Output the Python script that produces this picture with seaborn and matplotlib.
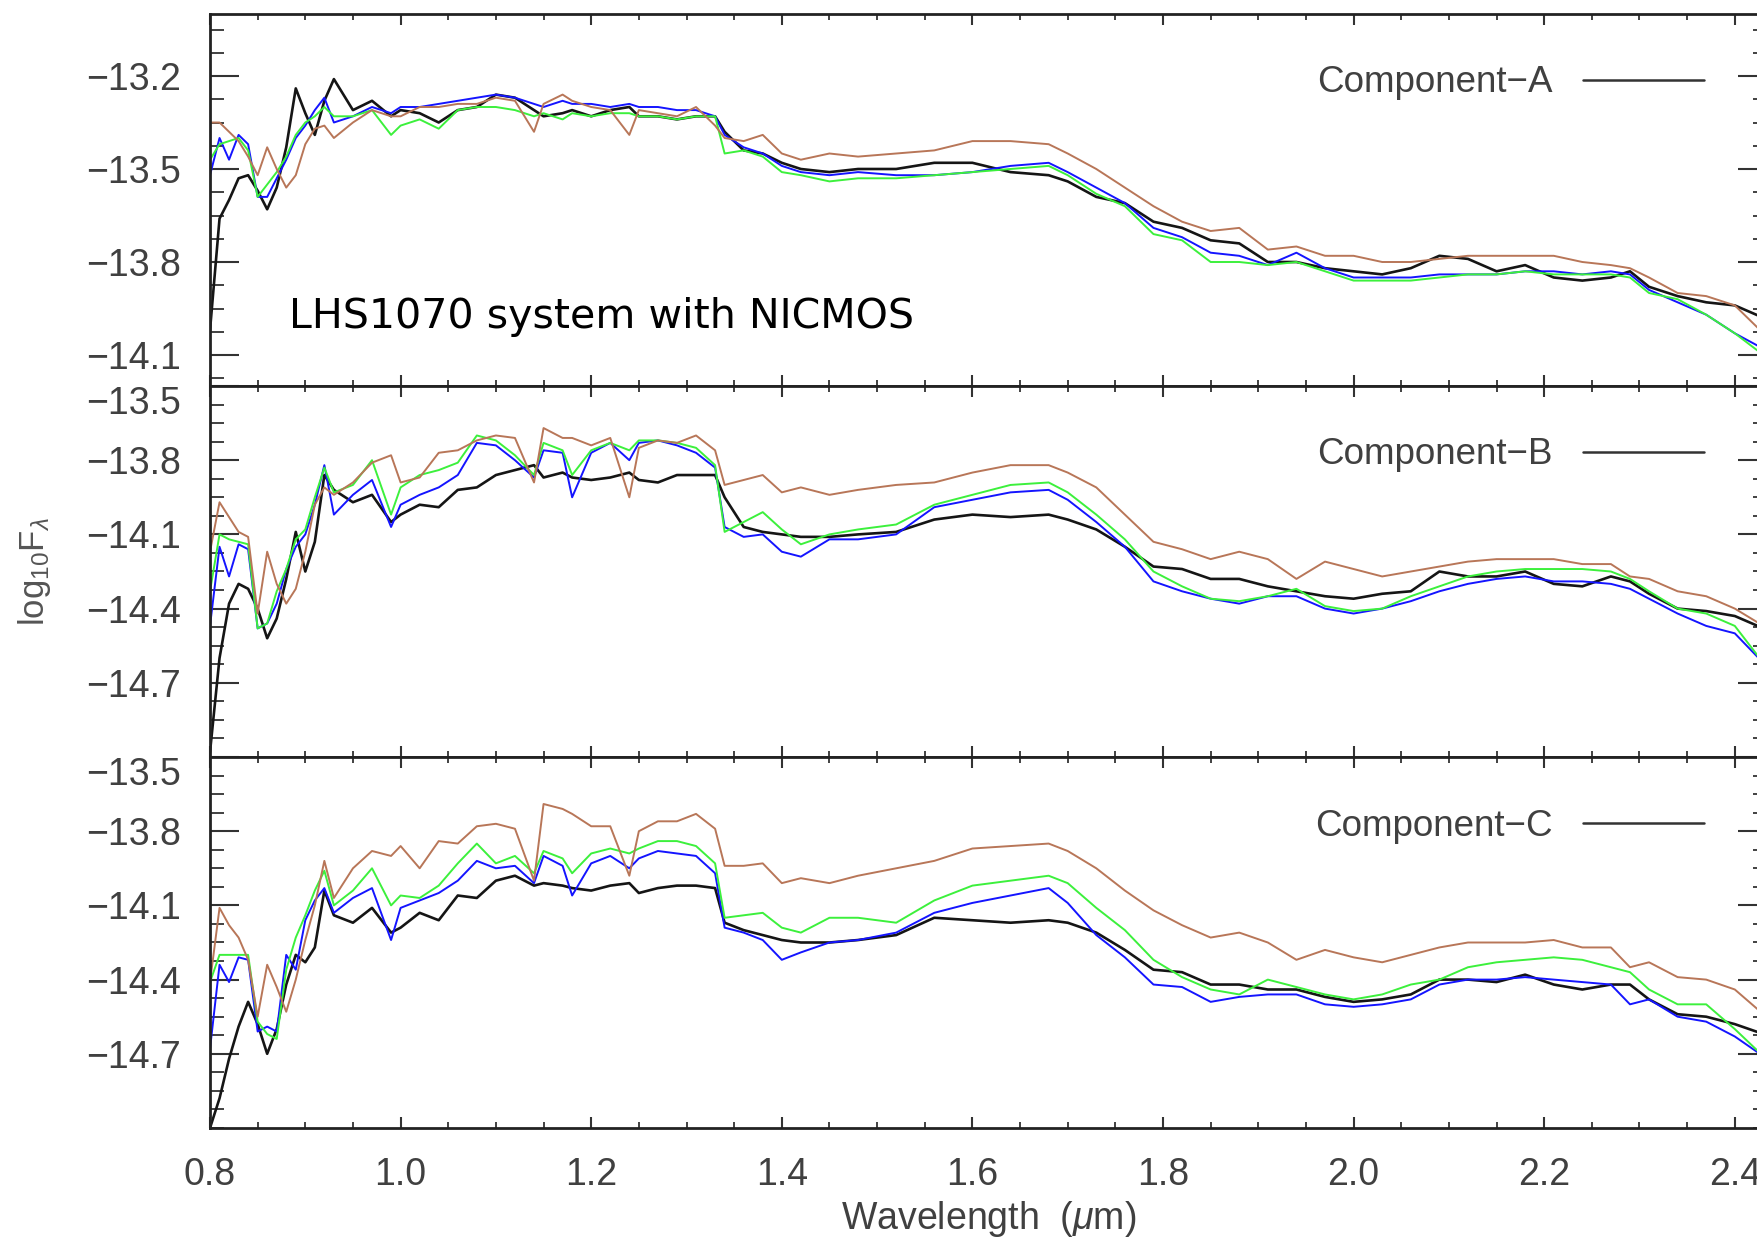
import numpy as np
import pandas as pd
import matplotlib
matplotlib.use("Agg")
import matplotlib.pyplot as plt
import seaborn as sns
from matplotlib.ticker import FixedLocator, FixedFormatter, MultipleLocator
from matplotlib.lines import Line2D

# ---------------- data ----------------
wavelength = [0.80, 0.81, 0.82, 0.83, 0.84, 0.85, 0.86, 0.87, 0.88, 0.89, 0.90, 0.91, 0.92, 0.93,
              0.95, 0.97, 0.99, 1.00, 1.02, 1.04, 1.06, 1.08, 1.10, 1.12,
              1.14, 1.15, 1.17, 1.18, 1.20, 1.22, 1.24, 1.25, 1.27, 1.29, 1.31, 1.33, 1.34, 1.36,
              1.38, 1.40, 1.42, 1.45, 1.48, 1.52,
              1.56, 1.60, 1.64, 1.68, 1.70,
              1.73, 1.76, 1.79, 1.82, 1.85, 1.88, 1.91, 1.94, 1.97, 2.00, 2.03, 2.06, 2.09, 2.12,
              2.15, 2.18, 2.21, 2.24, 2.27,
              2.29, 2.31, 2.34, 2.37, 2.40, 2.43]

# Component A
a_black = [-14.02, -13.66, -13.60, -13.53, -13.52, -13.57, -13.63, -13.56, -13.43, -13.24, -13.32, -13.39, -13.28, -13.21,
           -13.31, -13.28, -13.33, -13.31, -13.32, -13.35, -13.31, -13.30, -13.26, -13.27,
           -13.31, -13.33, -13.32, -13.31, -13.33, -13.31, -13.30, -13.33, -13.33, -13.34, -13.33, -13.33, -13.38, -13.44,
           -13.45, -13.48, -13.50, -13.51, -13.50, -13.50,
           -13.48, -13.48, -13.51, -13.52, -13.54,
           -13.59, -13.61, -13.67, -13.69, -13.73, -13.74, -13.80, -13.80, -13.82, -13.83, -13.84, -13.82, -13.78, -13.79,
           -13.83, -13.81, -13.85, -13.86, -13.85,
           -13.83, -13.88, -13.91, -13.93, -13.94, -13.98]
a_blue = [-13.52, -13.40, -13.47, -13.39, -13.42, -13.59, -13.59, -13.53, -13.47, -13.40, -13.36, -13.31, -13.27, -13.35,
          -13.33, -13.30, -13.32, -13.30, -13.30, -13.29, -13.28, -13.27, -13.26, -13.27,
          -13.29, -13.30, -13.28, -13.29, -13.29, -13.30, -13.29, -13.30, -13.30, -13.31, -13.31, -13.33, -13.39, -13.43,
          -13.45, -13.49, -13.51, -13.52, -13.51, -13.52,
          -13.52, -13.51, -13.49, -13.48, -13.51,
          -13.56, -13.61, -13.69, -13.72, -13.77, -13.78, -13.81, -13.77, -13.82, -13.85, -13.85, -13.85, -13.84, -13.84,
          -13.84, -13.83, -13.83, -13.84, -13.83,
          -13.84, -13.89, -13.93, -13.97, -14.03, -14.08]
a_green = [-13.47, -13.42, -13.41, -13.40, -13.44, -13.59, -13.55, -13.51, -13.46, -13.39, -13.35, -13.33, -13.30, -13.33,
           -13.33, -13.31, -13.39, -13.36, -13.34, -13.37, -13.31, -13.30, -13.30, -13.31,
           -13.33, -13.32, -13.34, -13.32, -13.33, -13.32, -13.32, -13.33, -13.33, -13.34, -13.33, -13.33, -13.45, -13.44,
           -13.46, -13.51, -13.52, -13.54, -13.53, -13.53,
           -13.52, -13.51, -13.50, -13.49, -13.52,
           -13.58, -13.62, -13.71, -13.73, -13.80, -13.80, -13.81, -13.80, -13.83, -13.86, -13.86, -13.86, -13.85, -13.84,
           -13.84, -13.83, -13.84, -13.84, -13.84,
           -13.85, -13.90, -13.92, -13.97, -14.03, -14.10]
a_brown = [-13.35, -13.35, -13.38, -13.41, -13.46, -13.52, -13.43, -13.50, -13.56, -13.52, -13.42, -13.37, -13.36, -13.40,
           -13.35, -13.31, -13.33, -13.33, -13.30, -13.30, -13.29, -13.29, -13.27, -13.28,
           -13.38, -13.29, -13.26, -13.28, -13.30, -13.31, -13.39, -13.31, -13.32, -13.33, -13.30, -13.36, -13.40, -13.41,
           -13.39, -13.45, -13.47, -13.45, -13.46, -13.45,
           -13.44, -13.41, -13.41, -13.42, -13.45,
           -13.50, -13.56, -13.62, -13.67, -13.70, -13.69, -13.76, -13.75, -13.78, -13.78, -13.80, -13.80, -13.79, -13.78,
           -13.78, -13.78, -13.78, -13.80, -13.81,
           -13.82, -13.85, -13.90, -13.91, -13.94, -14.03]

# Component B
b_black = [-14.98, -14.60, -14.38, -14.30, -14.32, -14.40, -14.52, -14.44, -14.28, -14.09, -14.25, -14.13, -13.86, -13.92,
           -13.97, -13.94, -14.05, -14.02, -13.98, -13.99, -13.92, -13.91, -13.86, -13.84,
           -13.82, -13.87, -13.85, -13.87, -13.88, -13.87, -13.85, -13.88, -13.89, -13.86, -13.86, -13.86, -13.95, -14.07,
           -14.09, -14.10, -14.11, -14.11, -14.10, -14.09,
           -14.04, -14.02, -14.03, -14.02, -14.04,
           -14.08, -14.15, -14.23, -14.24, -14.28, -14.28, -14.31, -14.33, -14.35, -14.36, -14.34, -14.33, -14.25, -14.27,
           -14.27, -14.25, -14.30, -14.31, -14.27,
           -14.29, -14.34, -14.40, -14.41, -14.43, -14.48]
b_blue = [-14.47, -14.15, -14.27, -14.14, -14.16, -14.48, -14.46, -14.38, -14.24, -14.15, -14.10, -13.98, -13.82, -14.02,
          -13.94, -13.88, -14.07, -13.98, -13.94, -13.91, -13.86, -13.73, -13.74, -13.80,
          -13.87, -13.76, -13.77, -13.95, -13.77, -13.73, -13.80, -13.73, -13.72, -13.74, -13.77, -13.83, -14.07, -14.11,
          -14.10, -14.17, -14.19, -14.12, -14.12, -14.10,
          -13.99, -13.96, -13.93, -13.92, -13.96,
          -14.05, -14.15, -14.29, -14.33, -14.36, -14.38, -14.35, -14.35, -14.40, -14.42, -14.40, -14.37, -14.33, -14.30,
          -14.28, -14.27, -14.29, -14.29, -14.30,
          -14.32, -14.36, -14.42, -14.47, -14.50, -14.62]
b_green = [-14.33, -14.10, -14.12, -14.13, -14.14, -14.48, -14.46, -14.33, -14.24, -14.12, -14.08, -13.95, -13.83, -13.93,
           -13.90, -13.80, -14.02, -13.91, -13.86, -13.84, -13.81, -13.70, -13.72, -13.78,
           -13.86, -13.73, -13.76, -13.86, -13.76, -13.73, -13.76, -13.72, -13.72, -13.73, -13.75, -13.82, -14.09, -14.05,
           -14.01, -14.08, -14.14, -14.10, -14.08, -14.06,
           -13.98, -13.94, -13.90, -13.89, -13.93,
           -14.02, -14.12, -14.25, -14.31, -14.36, -14.37, -14.35, -14.32, -14.39, -14.41, -14.40, -14.35, -14.31, -14.27,
           -14.25, -14.24, -14.24, -14.24, -14.25,
           -14.28, -14.33, -14.40, -14.42, -14.47, -14.62]
b_brown = [-14.17, -13.97, -14.03, -14.09, -14.11, -14.42, -14.17, -14.30, -14.38, -14.32, -14.17, -13.98, -13.91, -13.94,
           -13.89, -13.81, -13.78, -13.89, -13.87, -13.77, -13.76, -13.72, -13.70, -13.71,
           -13.89, -13.67, -13.71, -13.71, -13.74, -13.71, -13.95, -13.75, -13.72, -13.73, -13.70, -13.76, -13.90, -13.88,
           -13.86, -13.93, -13.91, -13.94, -13.92, -13.90,
           -13.89, -13.85, -13.82, -13.82, -13.85,
           -13.91, -14.02, -14.13, -14.16, -14.20, -14.17, -14.20, -14.28, -14.21, -14.24, -14.27, -14.25, -14.23, -14.21,
           -14.20, -14.20, -14.20, -14.22, -14.22,
           -14.27, -14.28, -14.33, -14.35, -14.40, -14.47]

# Component C
c_black = [-15.00, -14.88, -14.72, -14.59, -14.49, -14.58, -14.70, -14.60, -14.42, -14.30, -14.33, -14.27, -14.04, -14.14,
           -14.17, -14.11, -14.21, -14.19, -14.13, -14.16, -14.06, -14.07, -14.00, -13.98,
           -14.02, -14.01, -14.02, -14.03, -14.04, -14.02, -14.01, -14.05, -14.03, -14.02, -14.02, -14.03, -14.17, -14.20,
           -14.22, -14.24, -14.25, -14.25, -14.24, -14.22,
           -14.15, -14.16, -14.17, -14.16, -14.17,
           -14.21, -14.28, -14.36, -14.37, -14.42, -14.42, -14.44, -14.44, -14.47, -14.49, -14.48, -14.46, -14.40, -14.40,
           -14.41, -14.38, -14.42, -14.44, -14.42,
           -14.42, -14.48, -14.54, -14.55, -14.58, -14.62]
c_blue = [-14.68, -14.34, -14.41, -14.31, -14.32, -14.61, -14.59, -14.61, -14.30, -14.36, -14.16, -14.08, -14.03, -14.13,
          -14.07, -14.03, -14.24, -14.11, -14.08, -14.05, -14.00, -13.92, -13.95, -13.94,
          -14.01, -13.90, -13.94, -14.06, -13.93, -13.90, -13.95, -13.91, -13.88, -13.89, -13.90, -13.97, -14.19, -14.21,
          -14.24, -14.32, -14.29, -14.25, -14.24, -14.21,
          -14.13, -14.09, -14.06, -14.03, -14.09,
          -14.22, -14.31, -14.42, -14.43, -14.49, -14.47, -14.46, -14.46, -14.50, -14.51, -14.50, -14.48, -14.42, -14.40,
          -14.40, -14.39, -14.40, -14.41, -14.42,
          -14.50, -14.48, -14.55, -14.57, -14.63, -14.71]
c_green = [-14.41, -14.30, -14.30, -14.30, -14.30, -14.57, -14.62, -14.64, -14.36, -14.23, -14.14, -14.04, -13.96, -14.10,
           -14.04, -13.95, -14.10, -14.06, -14.07, -14.02, -13.93, -13.85, -13.93, -13.90,
           -13.97, -13.88, -13.91, -13.97, -13.89, -13.87, -13.89, -13.87, -13.84, -13.84, -13.86, -13.93, -14.15, -14.14,
           -14.13, -14.19, -14.21, -14.15, -14.15, -14.17,
           -14.08, -14.02, -14.00, -13.98, -14.01,
           -14.11, -14.20, -14.32, -14.39, -14.44, -14.46, -14.40, -14.43, -14.46, -14.48, -14.46, -14.42, -14.40, -14.35,
           -14.33, -14.32, -14.31, -14.32, -14.35,
           -14.37, -14.44, -14.50, -14.50, -14.60, -14.71]
c_brown = [-14.41, -14.11, -14.18, -14.23, -14.32, -14.55, -14.34, -14.43, -14.53, -14.40, -14.24, -14.10, -13.92, -14.07,
           -13.95, -13.88, -13.90, -13.86, -13.95, -13.84, -13.85, -13.78, -13.77, -13.79,
           -14.00, -13.69, -13.71, -13.73, -13.78, -13.78, -13.98, -13.80, -13.76, -13.76, -13.73, -13.79, -13.94, -13.94,
           -13.93, -14.01, -13.99, -14.01, -13.98, -13.95,
           -13.92, -13.87, -13.86, -13.85, -13.88,
           -13.95, -14.04, -14.12, -14.18, -14.23, -14.21, -14.25, -14.32, -14.28, -14.31, -14.33, -14.30, -14.27, -14.25,
           -14.25, -14.25, -14.24, -14.27, -14.27,
           -14.35, -14.33, -14.39, -14.40, -14.44, -14.54]

component_labels = ["Component\u2212A", "Component\u2212B", "Component\u2212C"]
series_names = ["observed", "model 1", "model 2", "model 3"]
x_ticks = [0.8, 1.0, 1.2, 1.4, 1.6, 1.8, 2.0, 2.2, 2.4]
x_ticklabels = ["0.8", "1.0", "1.2", "1.4", "1.6", "1.8", "2.0", "2.2", "2.4"]
y_ticks_top = [-13.2, -13.5, -13.8, -14.1]
y_ticklabels_top = ["\u221213.2", "\u221213.5", "\u221213.8", "\u221214.1"]
y_ticks_low = [-13.5, -13.8, -14.1, -14.4, -14.7]
y_ticklabels_low = ["\u221213.5", "\u221213.8", "\u221214.1", "\u221214.4", "\u221214.7"]

panels = [
    dict(label=component_labels[0], data=[a_black, a_blue, a_green, a_brown], ylim=(-14.2, -13.0),
         yt=y_ticks_top, ytl=y_ticklabels_top),
    dict(label=component_labels[1], data=[b_black, b_blue, b_green, b_brown], ylim=(-15.0, -13.5),
         yt=y_ticks_low, ytl=y_ticklabels_low),
    dict(label=component_labels[2], data=[c_black, c_blue, c_green, c_brown], ylim=(-15.0, -13.5),
         yt=y_ticks_low, ytl=y_ticklabels_low),
]

# ---------------- style ----------------
sns.set_style("ticks")
plt.rcParams["font.family"] = ["Liberation Sans", "DejaVu Sans"]
plt.rcParams["mathtext.fontset"] = "custom"
plt.rcParams["mathtext.rm"] = "Liberation Sans"
plt.rcParams["mathtext.it"] = "Liberation Sans:italic"
plt.rcParams["axes.unicode_minus"] = True

palette = {"observed": "#151515", "model 1": "#1414ff", "model 2": "#3cf03c", "model 3": "#b87658"}
label_color = "#404040"

W, H = 1758, 1244
fig = plt.figure(figsize=(W / 100, H / 100), dpi=100)
left_px, right_px = 210, 1767
panel_px = [(14, 386), (386, 757), (757, 1128)]
legend_y_px = [83, 455, 826]

axes = []
for i, (p, (top, bot)) in enumerate(zip(panels, panel_px)):
    ax = fig.add_axes([left_px / W, 1 - bot / H, (right_px - left_px) / W, (bot - top) / H])
    axes.append(ax)
    n = len(wavelength)
    for arr in p["data"]:
        assert len(arr) == n, (i, len(arr))
    df = pd.DataFrame({
        "wavelength": wavelength * 4,
        "flux": sum(p["data"], []),
        "series": sum([[s] * n for s in series_names], []),
    })
    sns.lineplot(data=df, x="wavelength", y="flux", hue="series", hue_order=series_names,
                 palette=palette, estimator=None, sort=False, legend=False, linewidth=1.4, ax=ax)
    ax.lines[0].set_linewidth(1.9)

    ax.set_xlim(0.8, 0.8 + (right_px - left_px) / 953.0)
    ax.set_ylim(*p["ylim"])
    ax.set_xlabel("")
    ax.set_ylabel("")

    ax.xaxis.set_major_locator(FixedLocator(x_ticks))
    ax.xaxis.set_minor_locator(MultipleLocator(0.05))
    ax.yaxis.set_major_locator(FixedLocator(p["yt"]))
    ax.yaxis.set_major_formatter(FixedFormatter(p["ytl"]))
    ax.yaxis.set_minor_locator(MultipleLocator(0.075))
    if i == 2:
        ax.xaxis.set_major_formatter(FixedFormatter(x_ticklabels))

    ax.tick_params(axis="both", which="both", direction="in", top=True, right=True,
                   color="#333333", labelcolor=label_color, labelsize=27)
    ax.tick_params(axis="y", which="major", length=21, width=1.5, pad=21)
    ax.tick_params(axis="y", which="minor", length=10, width=1.3)
    ax.tick_params(axis="x", which="major", length=8, width=1.5, pad=21)
    ax.tick_params(axis="x", which="minor", length=4.5, width=1.3)
    if i < 2:
        ax.tick_params(axis="x", labelbottom=False)
    for sp in ax.spines.values():
        sp.set_linewidth(2.0)
        sp.set_color("#222222")
        sp.set_visible(True)

    handle = Line2D([], [], color="#333333", linewidth=1.8)
    ax.legend([handle], [p["label"]], loc="center right",
              bbox_to_anchor=(1704 / W, 1 - legend_y_px[i] / H), bbox_transform=fig.transFigure,
              frameon=False, markerfirst=False, handlelength=3.3, handletextpad=0.8,
              borderpad=0, borderaxespad=0, fontsize=26.5, labelcolor=label_color)

axes[0].text(0.0507, 0.1855, "LHS1070 system with NICMOS", transform=axes[0].transAxes,
             fontsize=29.6, family="DejaVu Sans", ha="left", va="center", color="black")

axes[1].set_ylabel("log$_{10}$F$_{\\lambda}$", fontsize=25, color="#555555", va="center")
axes[1].yaxis.set_label_coords(-0.113, 0.5)
axes[2].set_xlabel("Wavelength  ($\\mu$m)", fontsize=27, color=label_color, va="center")
axes[2].xaxis.set_label_coords(0.5, -0.245)

# the top tick label of the lower panels hangs below the panel edge, as in the reference
fig.canvas.draw()
for ax in axes[1:]:
    for t in ax.yaxis.get_major_ticks():
        if t.get_loc() is not None and abs(t.get_loc() + 13.5) < 1e-6:
            t.label1.set_verticalalignment("top")

fig.savefig("out.png", dpi=100)
